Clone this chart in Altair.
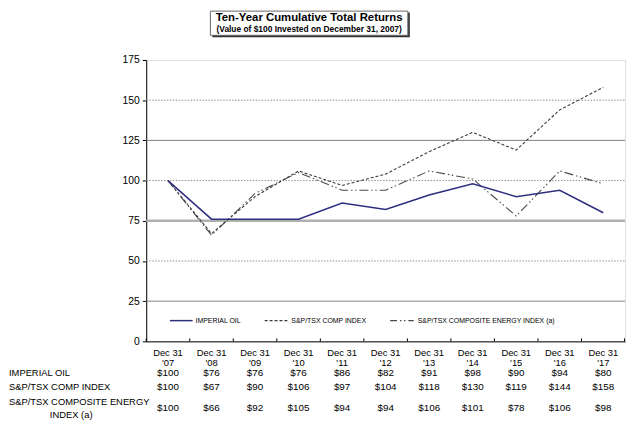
import altair as alt
import pandas as pd

years = ["'07", "'08", "'09", "'10", "'11", "'12", "'13", "'14", "'15", "'16", "'17"]
series = ["IMPERIAL OIL", "S&P/TSX COMP INDEX", "S&P/TSX COMPOSITE ENERGY INDEX (a)"]
imperial = [100, 76, 76, 76, 86, 82, 91, 98, 90, 94, 80]
comp = [100, 67, 90, 106, 97, 104, 118, 130, 119, 144, 158]
energy = [100, 66, 92, 105, 94, 94, 106, 101, 78, 106, 98]
y_ticks = [0, 25, 50, 75, 100, 125, 150, 175]
grid_solid = [25, 125]
grid_thick = [75]
grid_dotted = [50, 100, 150]

FONT = "Liberation Sans"
W, H = 485, 285
TOP = 50

rows = []
for i, y in enumerate(years):
    for s, vals in zip(series, [imperial, comp, energy]):
        rows.append({"year": y, "series": s, "value": vals[i], "label": f"${vals[i]}"})
df = pd.DataFrame(rows)
ydf = pd.DataFrame({"year": years, "top": ["Dec 31"] * len(years)})

xs = alt.Scale(type="band", domain=years, paddingInner=0, paddingOuter=0)
ys = alt.Scale(domain=[0, 175], nice=False, zero=True)
X = alt.X("year:N", scale=xs, axis=alt.Axis(labels=False, ticks=False, title=None, grid=False,
                                              domainColor="#000", domainWidth=1))
Xp = alt.X("year:N", scale=xs)

def grid_layer(vals, color, width, dash=None):
    kw = dict(color=color, strokeWidth=width)
    if dash:
        kw["strokeDash"] = dash
    return alt.Chart(pd.DataFrame({"v": vals})).mark_rule(**kw).encode(
        y=alt.Y("v:Q", scale=ys), x=alt.value(0), x2=alt.value(W))

base_axis = alt.Chart(df).mark_line(opacity=0).encode(
    x=X,
    y=alt.Y("value:Q", scale=ys, axis=alt.Axis(values=y_ticks, grid=False, tickSize=4, title=None,
                                                labelFont=FONT, labelFontSize=10.5, labelColor="#000",
                                                domainColor="#000", tickColor="#000", labelPadding=3)),
)

g1 = grid_layer(grid_solid, "#808080", 1)
g2 = grid_layer(grid_thick, "#b0b0b0", 2.5)
g3 = grid_layer(grid_dotted, "#8c8c8c", 1, [1.5, 1.5])

def line_layer(name, color, width, dash=None):
    kw = dict(color=color, strokeWidth=width)
    if dash:
        kw["strokeDash"] = dash
    return alt.Chart(df).transform_filter(alt.datum.series == name).mark_line(**kw).encode(
        x=Xp, y=alt.Y("value:Q", scale=ys))

l_energy = line_layer(series[2], "#4a4a4a", 1.1, [9, 3, 1.5, 2.5, 1.5, 3])
l_comp = line_layer(series[1], "#3a3a3a", 1.1, [3, 2])
l_imp = line_layer(series[0], "#2e2e80", 1.5)

ticks = alt.Chart(ydf).mark_rule(color="#000").encode(
    x=alt.X("year:N", scale=xs, bandPosition=0), y=alt.value(H), y2=alt.value(H - 3))
last_tick = alt.Chart(ydf.head(1)).mark_rule(color="#000").encode(
    x=alt.value(W - 0.5), y=alt.value(H), y2=alt.value(H - 3))

xtxt = dict(font=FONT, fontSize=9.5, color="#000", baseline="middle")
xl1 = alt.Chart(ydf).mark_text(**xtxt).encode(x=Xp, y=alt.value(296.5), text="top:N")
xl2 = alt.Chart(ydf).mark_text(**xtxt).encode(x=Xp, y=alt.value(306.5), text="year:N")

txt = dict(font=FONT, fontSize=10, color="#000", baseline="middle")
row_y = [317.5, 331, 353]
row_layers = []
for s, ry in zip(series, row_y):
    row_layers.append(alt.Chart(df).transform_filter(alt.datum.series == s).mark_text(**txt).encode(
        x=Xp, y=alt.value(ry), text="label:N"))

ltxt = dict(font=FONT, fontSize=9.5, color="#000", baseline="middle")
lab_df = pd.DataFrame({"t": [series[0], series[1], "S&P/TSX COMPOSITE ENERGY"], "y": [317.5, 331, 346]})
row_labels = []
for _, r in lab_df.iterrows():
    row_labels.append(alt.Chart(pd.DataFrame({"t": [r.t]})).mark_text(align="left", **ltxt).encode(
        x=alt.value(-139), y=alt.value(r.y), text="t:N"))
row_labels.append(alt.Chart(pd.DataFrame({"t": ["INDEX (a)"]})).mark_text(align="center", **ltxt).encode(
    x=alt.value(-76), y=alt.value(359.5), text="t:N"))

# legend
leg_y = 264
leg = []
leg_specs = [(series[0], 24, 47, 50, "#2e2e80", 1.5, None),
             (series[1], 120, 144, 147, "#3a3a3a", 1.1, [3, 2]),
             (series[2], 247, 271, 275, "#4a4a4a", 1.1, [7, 3, 1.5, 2.5, 1.5, 3])]
for name, x1, x2, xt, col, w, dash in leg_specs:
    kw = dict(color=col, strokeWidth=w)
    if dash:
        kw["strokeDash"] = dash
    leg.append(alt.Chart(pd.DataFrame({"t": [name]})).mark_rule(**kw).encode(
        x=alt.value(x1), x2=alt.value(x2), y=alt.value(leg_y)))
    leg.append(alt.Chart(pd.DataFrame({"t": [name]})).mark_text(
        align="left", baseline="middle", font=FONT, fontSize=7, color="#000").encode(
        x=alt.value(xt), y=alt.value(leg_y), text="t:N"))

# title box
tb = pd.DataFrame({"t": ["Ten-Year Cumulative Total Returns"], "s": ["(Value of $100 Invested on December 31, 2007)"]})
shadow = alt.Chart(tb).mark_rect(color="#333").encode(
    x=alt.value(67), x2=alt.value(267), y=alt.value(-TOP + 2), y2=alt.value(-TOP + 27))
box = alt.Chart(tb).mark_rect(fill="#fff", stroke="#666", strokeWidth=1).encode(
    x=alt.value(65), x2=alt.value(265), y=alt.value(-TOP + 0.5), y2=alt.value(-TOP + 25))
t1 = alt.Chart(tb).mark_text(font=FONT, fontSize=11.5, fontWeight="bold", color="#000", baseline="middle").encode(
    x=alt.value(165), y=alt.value(-TOP + 8), text="t:N")
t2 = alt.Chart(tb).mark_text(font=FONT, fontSize=8.5, fontWeight="bold", color="#000", baseline="middle").encode(
    x=alt.value(165), y=alt.value(-TOP + 19), text="s:N")

chart = alt.layer(
    base_axis, g1, g2, g3, l_energy, l_comp, l_imp, ticks, last_tick, xl1, xl2,
    *row_layers, *row_labels, *leg, shadow, box, t1, t2
).properties(
    width=W, height=H,
    autosize=alt.AutoSizeParams(type="none"),
    padding={"left": 140, "top": TOP, "right": 3, "bottom": 78},
).configure_view(stroke=None).configure(background="#ffffff")

chart.save("out.html", embed_options={"renderer": "svg", "actions": False})
